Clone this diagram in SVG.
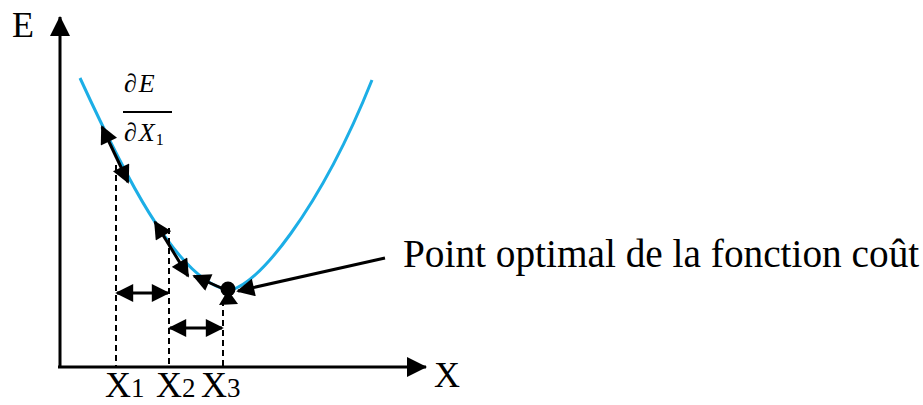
<svg xmlns="http://www.w3.org/2000/svg" width="923" height="405" viewBox="0 0 923 405">
<style>
.ax{stroke:#000;stroke-width:3;fill:none}
.blk{stroke:#000;stroke-width:3;fill:none}
.dash{stroke:#000;stroke-width:2;stroke-dasharray:6,4;fill:none}
.curve{stroke:#1CAEE6;stroke-width:3;fill:none}
.lbl{font-family:"Liberation Serif","Times New Roman",serif;fill:#000}
.math{font-family:"Liberation Serif","DejaVu Serif",serif;font-style:italic;fill:#000;font-size:26px;letter-spacing:2px}
</style>
<defs>
<marker id="ah" viewBox="0 0 10 10" refX="9" refY="5" markerUnits="userSpaceOnUse" markerWidth="20" markerHeight="18" orient="auto-start-reverse">
<path d="M0,0 L10,5 L0,10 z" fill="#000"/>
</marker>
<marker id="axh" viewBox="0 0 10 10" refX="9.5" refY="5" markerUnits="userSpaceOnUse" markerWidth="20" markerHeight="20" orient="auto">
<path d="M0,0 L10,5 L0,10 z" fill="#000"/>
</marker>
</defs>
<g id="axes">
<line class="ax" x1="60" y1="368" x2="60" y2="17" marker-end="url(#axh)"/>
<line class="ax" x1="58" y1="367" x2="426" y2="367" marker-end="url(#axh)"/>
<text class="lbl" x="12" y="37" font-size="36">E</text>
<text class="lbl" x="434" y="387" font-size="36">X</text>
</g>
<g id="curve">
<path class="curve" d="M80,78 C120,165 175,280 228,290 C255,290 320,210 372,80"/>
</g>
<g id="fraction">
<text class="math" x="124" y="92">∂E</text>
<line x1="123" y1="112" x2="172" y2="112" stroke="#000" stroke-width="2"/>
<text class="math" x="124" y="141">∂X<tspan font-size="16" font-style="normal" dx="-1" dy="4">1</tspan></text>
</g>
<g id="connectors">
<line class="blk" x1="102" y1="127" x2="128" y2="182" marker-start="url(#ah)" marker-end="url(#ah)"/>
<line class="blk" x1="155" y1="222" x2="188" y2="276" marker-start="url(#ah)" marker-end="url(#ah)"/>
<line class="blk" x1="194" y1="276" x2="226" y2="290" marker-start="url(#ah)"/>
<polygon points="228,290 219,305 238,304" fill="#000"/>
<circle cx="228" cy="289" r="7.5" fill="#000"/>
<line class="blk" x1="385" y1="258" x2="238" y2="291" marker-end="url(#ah)"/>
<line class="dash" x1="116" y1="165" x2="116" y2="366"/>
<line class="dash" x1="169" y1="228" x2="169" y2="366"/>
<line class="dash" x1="223" y1="300" x2="223" y2="366"/>
<line class="blk" x1="117" y1="293" x2="168" y2="293" marker-start="url(#ah)" marker-end="url(#ah)"/>
<line class="blk" x1="170" y1="328" x2="222" y2="328" marker-start="url(#ah)" marker-end="url(#ah)"/>
</g>
<g id="labels">
<text class="lbl" x="403" y="267" font-size="39.3">Point optimal de la fonction coût</text>
<text class="lbl" x="105" y="397" font-size="36">X<tspan font-size="27">1</tspan></text>
<text class="lbl" x="156" y="397" font-size="36">X<tspan font-size="27">2</tspan></text>
<text class="lbl" x="201" y="397" font-size="36">X<tspan font-size="27">3</tspan></text>
</g>
</svg>
